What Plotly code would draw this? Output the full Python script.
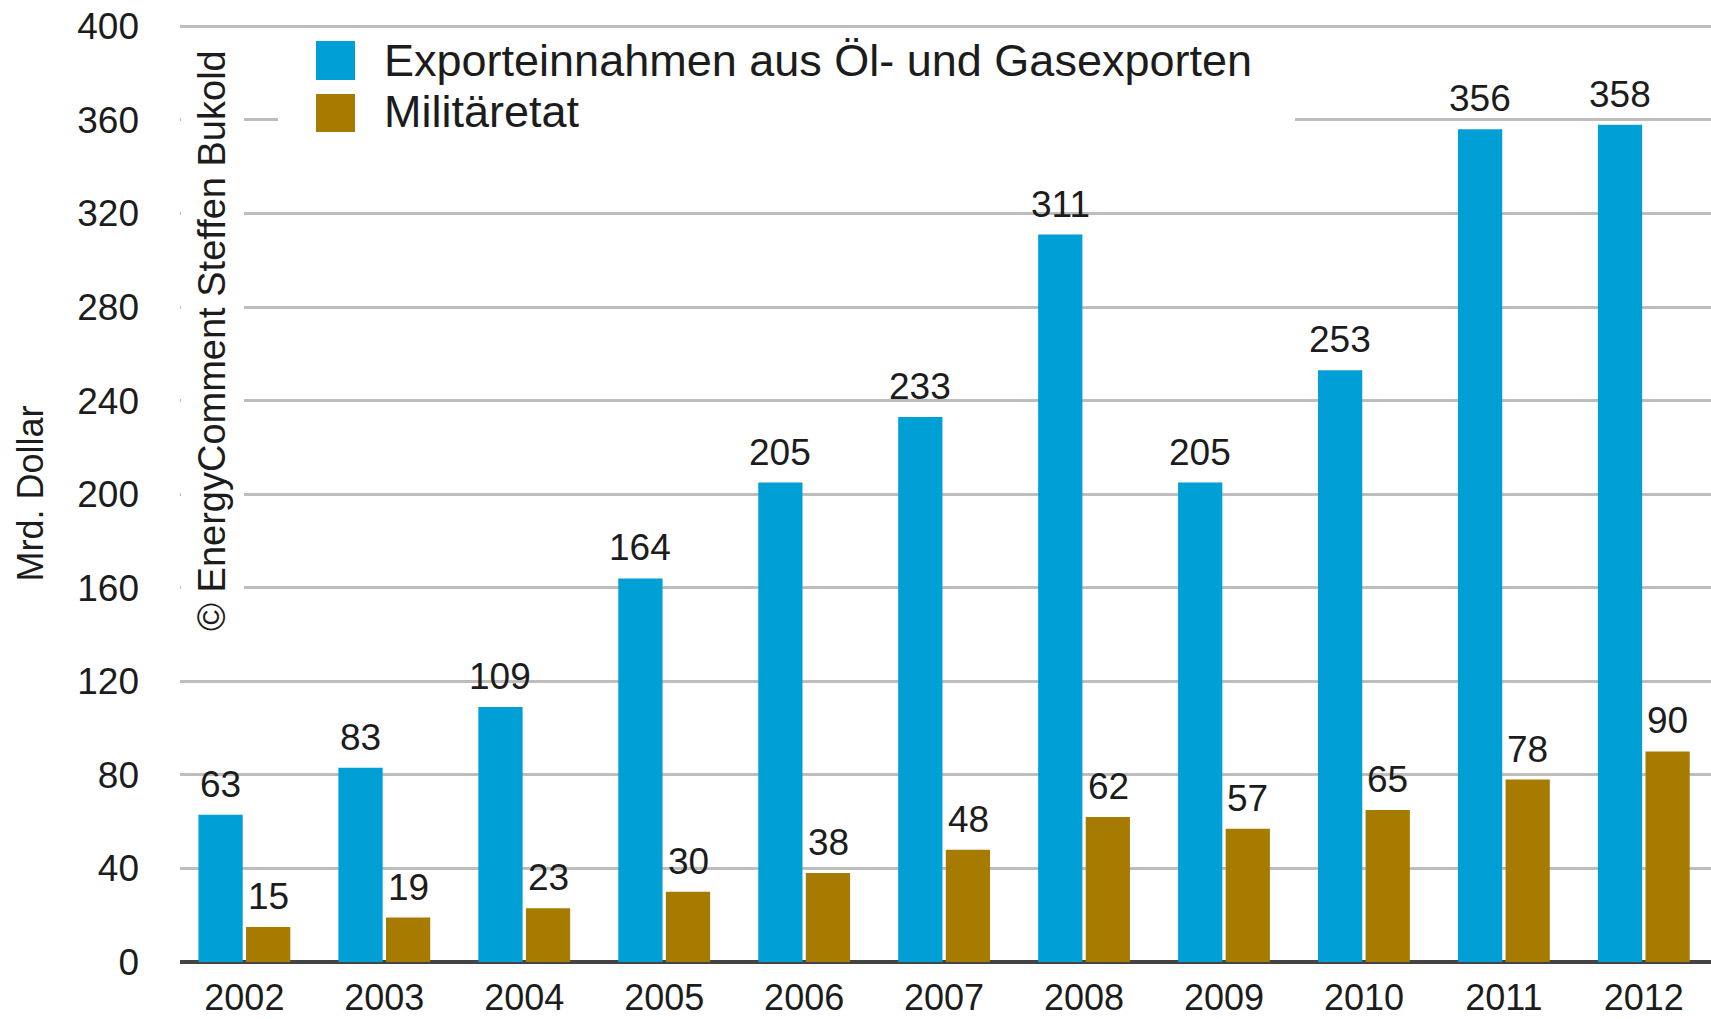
import plotly.graph_objects as go

years = ["2002", "2003", "2004", "2005", "2006", "2007", "2008", "2009", "2010", "2011", "2012"]
export_revenue = [63, 83, 109, 164, 205, 233, 311, 205, 253, 356, 358]
military_budget = [15, 19, 23, 30, 38, 48, 62, 57, 65, 78, 90]
series_names = ["Exporteinnahmen aus Öl- und Gasexporten", "Militäretat"]
y_ticks = [0, 40, 80, 120, 160, 200, 240, 280, 320, 360, 400]

BLUE = "#00A0D6"
BROWN = "#A67B00"
FONT = "Liberation Sans, Arial, Helvetica, sans-serif"
TXT = "#1c1c1c"

W, H = 1711, 1019
L, R, T, B = 180, 0, 25, 57
PW, PH = W - L - R, H - T - B


def px(x):
    return (x - L) / PW


def py(y):
    return (H - B - y) / PH


fig = go.Figure()
for name, vals, col in [(series_names[0], export_revenue, BLUE),
                        (series_names[1], military_budget, BROWN)]:
    fig.add_trace(go.Bar(
        x=years, y=vals, name=name,
        marker=dict(color=col, line=dict(width=0)),
        showlegend=False,
    ))

annotations = []
# value labels above bars (category index on the x axis; shifted onto each bar of the group)
for vals, shift in [(export_revenue, -24), (military_budget, 24)]:
    for i, v in enumerate(vals):
        annotations.append(dict(
            x=i, y=v, xref="x", yref="y", text=str(v), showarrow=False,
            xanchor="center", yanchor="bottom", xshift=shift, yshift=8,
            font=dict(family=FONT, size=37, color=TXT)))

shapes = [
    # watermark background
    dict(type="rect", xref="paper", yref="paper", x0=px(181), x1=px(244), y0=py(36), y1=py(642),
         fillcolor="white", line=dict(width=0), layer="above"),
    # legend background
    dict(type="rect", xref="paper", yref="paper", x0=px(278), x1=px(1295), y0=py(29), y1=py(142),
         fillcolor="white", line=dict(width=0), layer="above"),
    # legend swatches
    dict(type="rect", xref="paper", yref="paper", x0=px(316), x1=px(355), y0=py(41), y1=py(80),
         fillcolor=BLUE, line=dict(width=0), layer="above"),
    dict(type="rect", xref="paper", yref="paper", x0=px(316), x1=px(355), y0=py(94), y1=py(132),
         fillcolor=BROWN, line=dict(width=0), layer="above"),
]

annotations += [
    dict(text=series_names[0], xref="paper", yref="paper", x=px(382), y=py(60),
         xanchor="left", yanchor="middle", showarrow=False,
         font=dict(family=FONT, size=45, color=TXT)),
    dict(text=series_names[1], xref="paper", yref="paper", x=px(382), y=py(112),
         xanchor="left", yanchor="middle", showarrow=False,
         font=dict(family=FONT, size=45, color=TXT)),
    dict(text="© EnergyComment Steffen Bukold", xref="paper", yref="paper", x=px(212), y=py(341),
         xanchor="center", yanchor="middle", showarrow=False, textangle=-90,
         font=dict(family=FONT, size=38, color=TXT)),
]

fig.update_layout(
    width=W, height=H,
    margin=dict(l=L, r=R, t=T, b=B, autoexpand=False),
    paper_bgcolor="white", plot_bgcolor="white",
    barmode="group", bargap=0.32, bargroupgap=0.07,
    font=dict(family=FONT, size=37, color=TXT),
    shapes=shapes, annotations=annotations,
    xaxis=dict(type="category", range=[-0.46, 10.48], showgrid=False, showline=False,
               ticks="", tickfont=dict(size=36), ticklabelstandoff=11, automargin=False),
    yaxis=dict(range=[0, 400.6], tickvals=y_ticks, showgrid=True, gridcolor="#BDBDBD", gridwidth=3,
               zeroline=True, zerolinecolor="#444444", zerolinewidth=4, showline=False,
               ticks="", tickfont=dict(size=37), ticklabelstandoff=40, automargin=False,
               title=dict(text="Mrd. Dollar", font=dict(size=36), standoff=22)),
)

fig.write_html("out.html", config={"displayModeBar": False},
               post_script="document.body.style.margin='0px';")
